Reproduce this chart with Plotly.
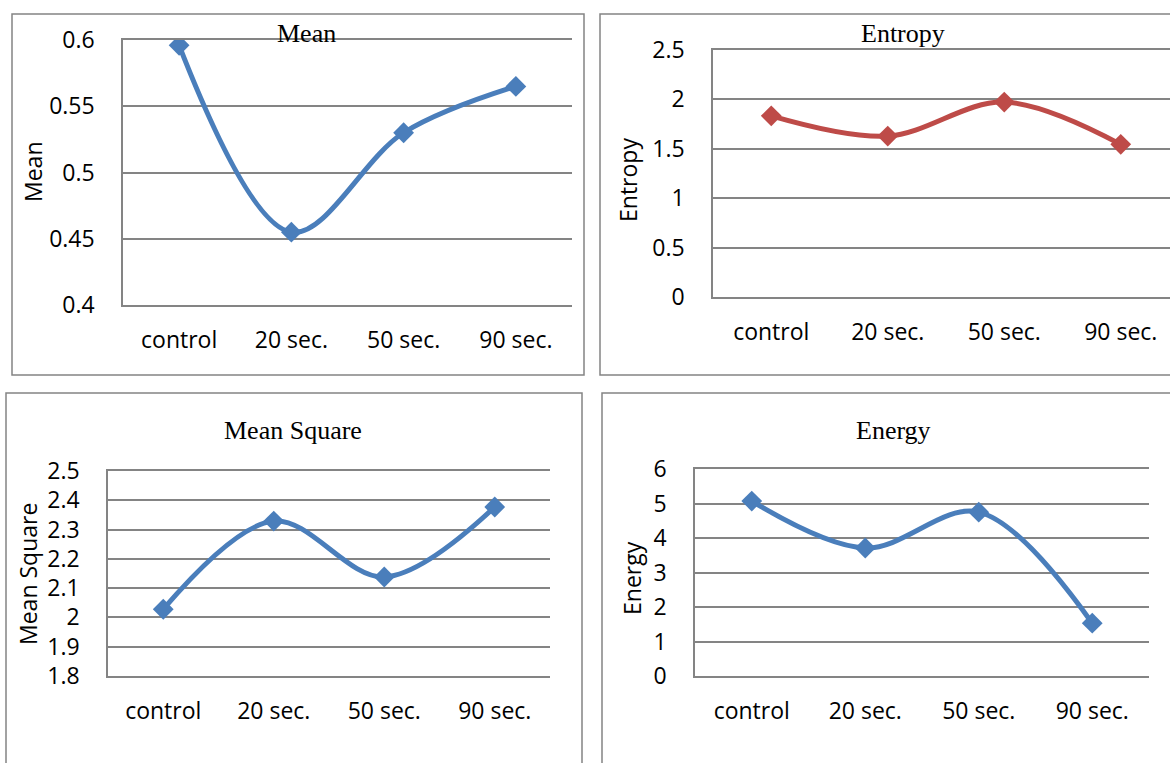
import plotly.graph_objects as go

# ---------------- data ----------------
categories = ["control", "20 sec.", "50 sec.", "90 sec."]
mean_vals = [0.596, 0.455, 0.530, 0.565]
entropy_vals = [1.834, 1.629, 1.973, 1.545]
mean_square_vals = [2.028, 2.329, 2.138, 2.377]
energy_vals = [5.07, 3.71, 4.75, 1.53]

mean_ticks = [0.4, 0.45, 0.5, 0.55, 0.6]
mean_ticktext = ["0.4", "0.45", "0.5", "0.55", "0.6"]
entropy_ticks = [0, 0.5, 1, 1.5, 2, 2.5]
entropy_ticktext = ["0", "0.5", "1", "1.5", "2", "2.5"]
msq_ticks = [1.8, 1.9, 2.0, 2.1, 2.2, 2.3, 2.4, 2.5]
msq_ticktext = ["1.8", "1.9", "2", "2.1", "2.2", "2.3", "2.4", "2.5"]
energy_ticks = [0, 1, 2, 3, 4, 5, 6]
energy_ticktext = ["0", "1", "2", "3", "4", "5", "6"]

titles = ["Mean", "Entropy", "Mean Square", "Energy"]

# ---------------- styling ----------------
W, H = 1170, 763
BLUE = "#4A7EBB"
RED = "#BE4B48"
GRID = "#848484"
TICKFONT = dict(family="Open Sans", size=23, color="#000000")
TITLEFONT = dict(family="Liberation Serif", size=26, color="#000000")


def fx(x):
    return x / W


def fy(y):
    return 1 - y / H


fig = go.Figure()

series = [
    (mean_vals, BLUE, "x", "y"),
    (entropy_vals, RED, "x2", "y2"),
    (mean_square_vals, BLUE, "x3", "y3"),
    (energy_vals, BLUE, "x4", "y4"),
]
for vals, col, xa, ya in series:
    fig.add_trace(go.Scatter(
        x=categories, y=vals, mode="lines+markers",
        line=dict(color=col, width=5, shape="spline", smoothing=1.0),
        marker=dict(symbol="diamond", size=16, color=col),
        xaxis=xa, yaxis=ya, showlegend=False, hoverinfo="x+y",
    ))


def xax(domain, rng):
    return dict(domain=domain, type="category", range=rng,
                showgrid=False, showline=True, mirror=True,
                linecolor=GRID, linewidth=1.5, zeroline=False,
                ticks="", tickfont=TICKFONT, ticklabelstandoff=14,
                automargin=False, fixedrange=True)


def yax(domain, rng, tv, tt):
    return dict(domain=domain, range=rng, tickvals=tv, ticktext=tt,
                showgrid=True, gridcolor=GRID, gridwidth=1.5,
                showline=True, linecolor=GRID, linewidth=1.5,
                zeroline=False, ticks="", tickfont=TICKFONT,
                ticklabelstandoff=22, automargin=False, fixedrange=True)


x1 = xax([fx(123), fx(572)], [-0.5, 3.5]); x1["anchor"] = "y"
x2 = xax([fx(713), 1.0], [-0.5, (1170 - 713) / 116.5 - 0.5]); x2["anchor"] = "y2"
x3 = xax([fx(108), fx(550)], [-0.5, 3.5]); x3["anchor"] = "y3"
x4 = xax([fx(695), fx(1149)], [-0.5, 3.5]); x4["anchor"] = "y4"

y1 = yax([fy(305), fy(40)], [0.4, 0.6], mean_ticks, mean_ticktext); y1["anchor"] = "x"
y2 = yax([fy(297), fy(50)], [0, 2.5], entropy_ticks, entropy_ticktext); y2["anchor"] = "x2"
y3 = yax([fy(676), fy(471)], [1.8, 2.5], msq_ticks, msq_ticktext); y3["anchor"] = "x3"
y4 = yax([fy(676), fy(469)], [0, 6], energy_ticks, energy_ticktext); y4["anchor"] = "x4"

# panel borders
borders = [(12, 14, 584, 375), (600, 14, 1180, 375), (6, 393, 582, 780), (602, 393, 1180, 780)]
shapes = []
for (a, b, c, d) in borders:
    shapes.append(dict(type="rect", xref="paper", yref="paper",
                       x0=fx(a), x1=fx(c), y0=fy(d), y1=fy(b),
                       line=dict(color=GRID, width=1.5), layer="below"))

# titles and y-axis titles
annotations = []
title_pos = [(306, 33), (903, 33), (293, 430), (894, 430)]
for t, (x, y) in zip(titles, title_pos):
    annotations.append(dict(text=t, x=fx(x), y=fy(y), xref="paper", yref="paper",
                            showarrow=False, font=TITLEFONT,
                            xanchor="center", yanchor="middle"))
ytitle_pos = [(33, 172), (628, 180), (28, 574), (632, 578)]
for t, (x, y) in zip(titles, ytitle_pos):
    annotations.append(dict(text=t, x=fx(x), y=fy(y), xref="paper", yref="paper",
                            showarrow=False, font=TICKFONT, textangle=-90,
                            xanchor="center", yanchor="middle"))

fig.update_layout(
    width=W, height=H,
    margin=dict(l=0, r=0, t=0, b=0, autoexpand=False),
    paper_bgcolor="white", plot_bgcolor="white",
    xaxis=x1, yaxis=y1, xaxis2=x2, yaxis2=y2,
    xaxis3=x3, yaxis3=y3, xaxis4=x4, yaxis4=y4,
    shapes=shapes, annotations=annotations,
)

fig.write_html("out.html", post_script="document.body.style.margin='0';",
               config={"displayModeBar": False})
